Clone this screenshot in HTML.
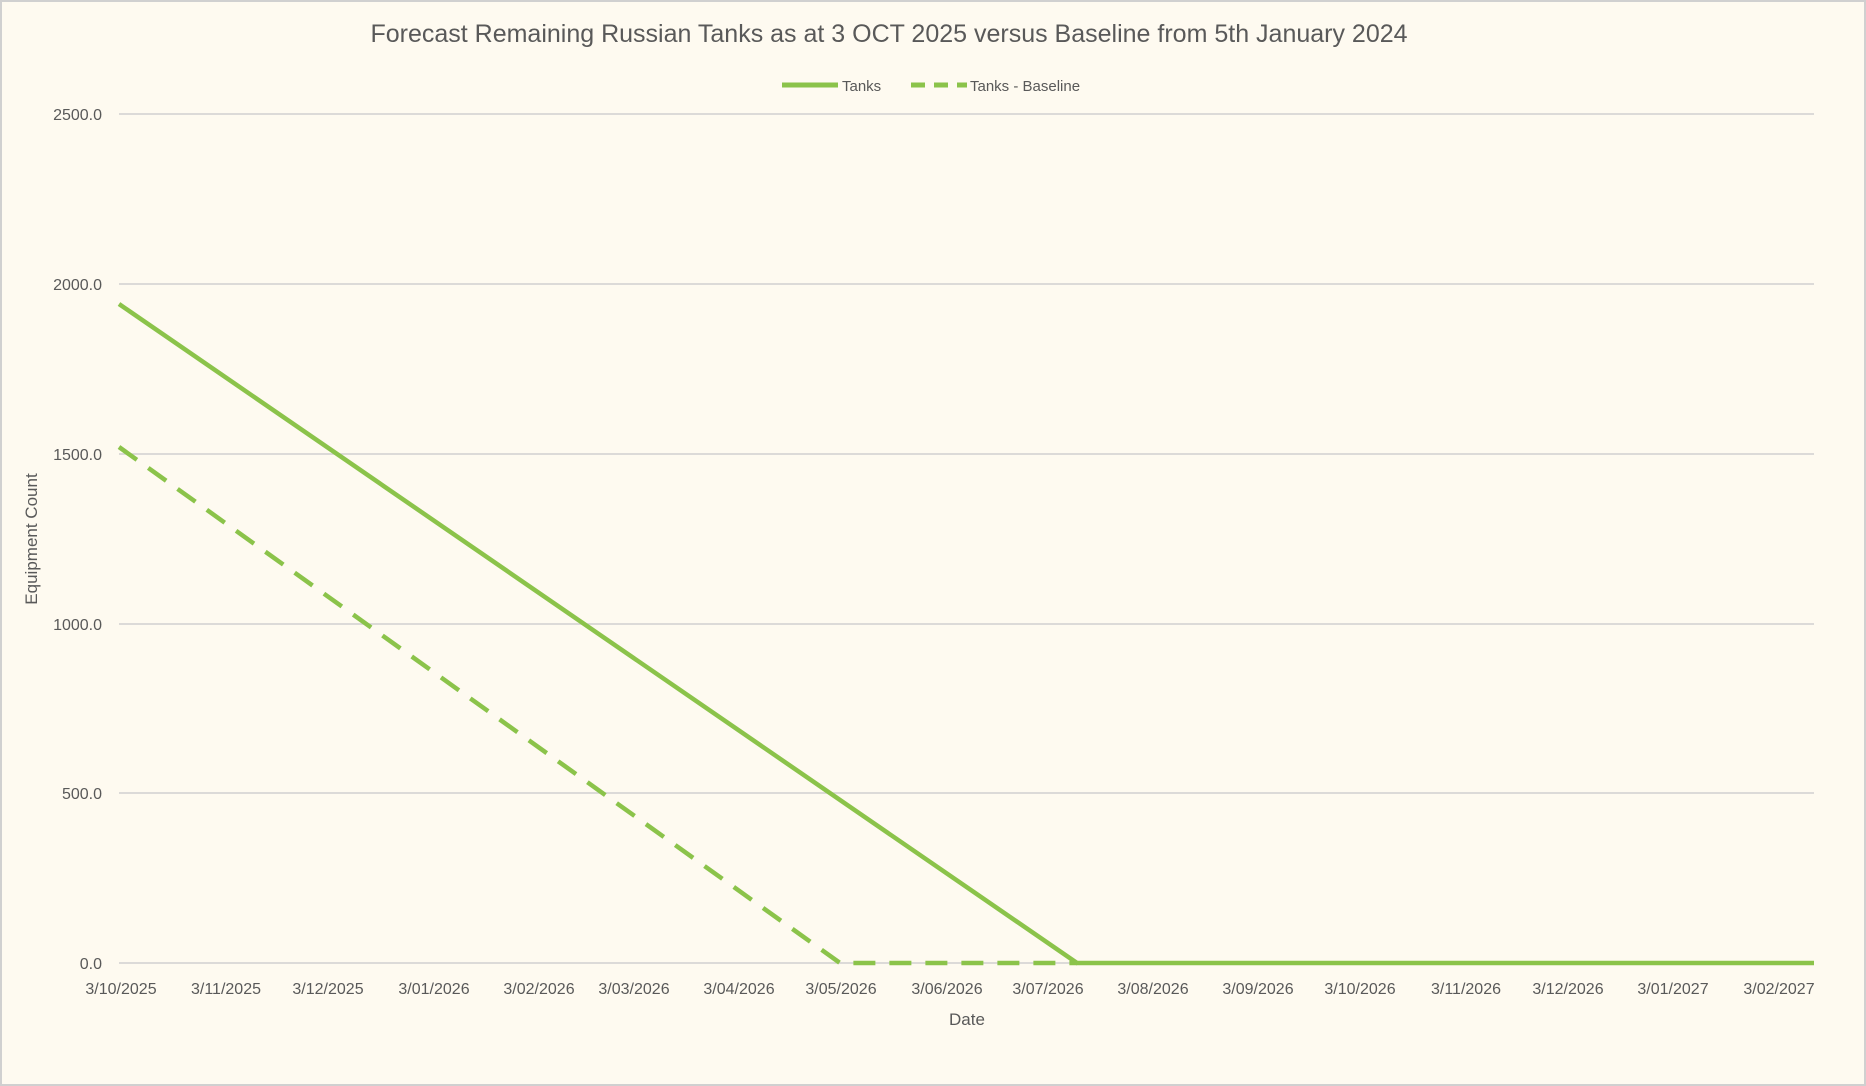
<!DOCTYPE html>
<html><head><meta charset="utf-8"><style>
html,body{margin:0;padding:0;background:#fefaf0}
svg{display:block}
text{font-family:"Liberation Sans",sans-serif;fill:#595959}
</style></head><body>
<svg width="1866" height="1086" viewBox="0 0 1866 1086">
<rect x="1" y="1" width="1864" height="1084" fill="#fefaf0" stroke="#d0d0d0" stroke-width="2"/>
<text x="889" y="42" font-size="25" text-anchor="middle">Forecast Remaining Russian Tanks as at 3 OCT 2025 versus Baseline from 5th January 2024</text>
<line x1="782" y1="85" x2="838" y2="85" stroke="#8bc34a" stroke-width="5"/>
<text x="842" y="91" font-size="15">Tanks</text>
<line x1="911" y1="85" x2="967" y2="85" stroke="#8bc34a" stroke-width="5" stroke-dasharray="14,9"/>
<text x="970" y="91" font-size="15">Tanks - Baseline</text>
<g stroke="#d0d0d0" stroke-width="1.5">
<line x1="119" y1="114" x2="1814" y2="114"/>
<line x1="119" y1="284" x2="1814" y2="284"/>
<line x1="119" y1="454" x2="1814" y2="454"/>
<line x1="119" y1="624" x2="1814" y2="624"/>
<line x1="119" y1="793" x2="1814" y2="793"/>
<line x1="119" y1="963" x2="1814" y2="963"/>
</g>
<g font-size="16" text-anchor="end">
<text x="102" y="120">2500.0</text>
<text x="102" y="290">2000.0</text>
<text x="102" y="460">1500.0</text>
<text x="102" y="630">1000.0</text>
<text x="102" y="799">500.0</text>
<text x="102" y="969">0.0</text>
</g>
<g font-size="16" text-anchor="middle">
<text x="121" y="994">3/10/2025</text>
<text x="226" y="994">3/11/2025</text>
<text x="328" y="994">3/12/2025</text>
<text x="434" y="994">3/01/2026</text>
<text x="539" y="994">3/02/2026</text>
<text x="634" y="994">3/03/2026</text>
<text x="739" y="994">3/04/2026</text>
<text x="841" y="994">3/05/2026</text>
<text x="947" y="994">3/06/2026</text>
<text x="1048" y="994">3/07/2026</text>
<text x="1153" y="994">3/08/2026</text>
<text x="1258" y="994">3/09/2026</text>
<text x="1360" y="994">3/10/2026</text>
<text x="1466" y="994">3/11/2026</text>
<text x="1568" y="994">3/12/2026</text>
<text x="1673" y="994">3/01/2027</text>
<text x="1779" y="994">3/02/2027</text>
</g>
<text x="967" y="1025" font-size="17" text-anchor="middle">Date</text>
<text transform="translate(37,539) rotate(-90)" font-size="17" text-anchor="middle">Equipment Count</text>
<polyline points="119,447 840,963 1077,963" fill="none" stroke="#8bc34a" stroke-width="4.5" stroke-dasharray="22,14"/>
<polyline points="119,304 1077,963 1814,963" fill="none" stroke="#8bc34a" stroke-width="4.5"/>
</svg>
</body></html>
